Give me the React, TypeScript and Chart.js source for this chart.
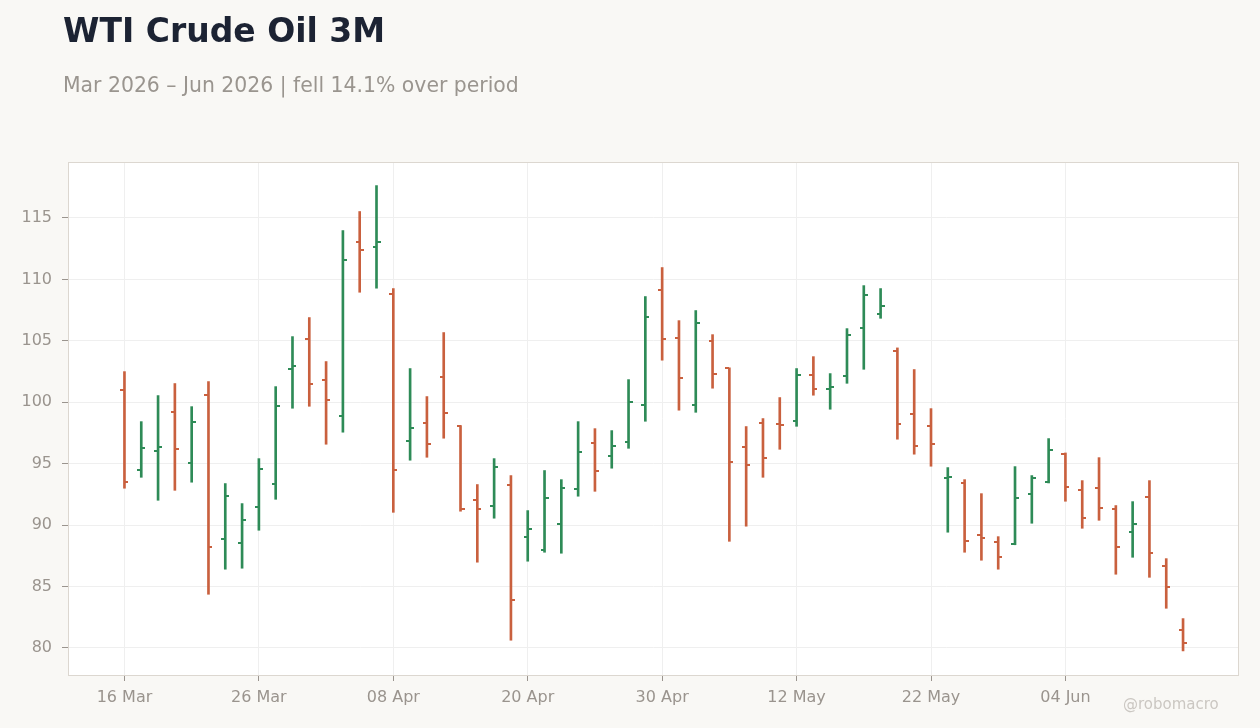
import React, { useRef, useEffect } from "react";
import { Chart, registerables } from "chart.js";

Chart.register(...registerables);

// trading-day index -> OHLC
const opens = [
  100.97, 94.46, 96.01, 99.18, 95.03, 100.57, 88.85, 88.52, 91.45, 93.32,
  102.68, 105.12, 101.79, 98.91, 113.02, 112.67, 108.79, 96.82, 98.29, 102.03,
  98.07, 92.02, 91.53, 93.24, 89.01, 87.95, 90.07, 92.92, 96.66, 95.6,
  96.74, 99.75, 109.11, 105.21, 99.75, 104.96, 102.76, 96.33, 98.29, 98.21,
  98.45, 102.19, 101.06, 102.11, 106.02, 107.16, 104.15, 99.02, 98.04, 93.86,
  93.4, 89.17, 88.6, 88.45, 92.51, 93.49, 95.77, 92.83, 93.0, 91.29,
  89.42, 92.27, 86.65, 81.44,
];
const highs = [
  102.49, 98.42, 100.54, 101.52, 99.64, 101.68, 93.38, 91.75, 95.41, 101.27,
  105.34, 106.89, 103.31, 113.97, 115.52, 117.63, 109.25, 102.74, 100.46, 105.67,
  98.1, 93.3, 95.41, 94.03, 91.18, 94.44, 93.7, 98.42, 97.85, 97.69,
  101.84, 108.6, 110.96, 106.64, 107.46, 105.5, 102.8, 98.02, 98.67, 100.38,
  102.74, 103.71, 102.33, 105.99, 109.49, 109.25, 104.42, 102.66, 99.48, 94.68,
  93.7, 92.56, 89.06, 94.76, 94.03, 97.04, 95.87, 93.62, 95.49, 91.59,
  91.91, 93.62, 87.27, 82.39,
];
const lows = [
  93.0, 93.89, 92.02, 92.83, 93.49, 84.37, 86.41, 86.49, 89.58, 92.1,
  99.51, 99.67, 96.58, 97.56, 108.95, 109.28, 91.04, 95.28, 95.52, 97.07,
  91.13, 86.98, 90.56, 80.63, 87.06, 87.79, 87.71, 92.35, 92.75, 94.63,
  96.25, 98.45, 103.42, 99.35, 99.18, 101.14, 88.68, 89.91, 93.89, 96.17,
  98.04, 100.57, 99.43, 101.54, 102.68, 106.83, 96.99, 95.77, 94.79, 89.42,
  87.79, 87.14, 86.41, 88.4, 90.15, 93.43, 91.94, 89.74, 90.39, 86.0,
  87.38, 85.75, 83.23, 79.76,
];
const closes = [
  93.54, 96.25, 96.33, 96.17, 98.37, 88.2, 92.35, 90.39, 94.54, 99.67,
  102.93, 101.46, 100.16, 111.55, 112.42, 113.02, 94.46, 97.88, 96.58, 99.1,
  91.29, 91.29, 94.71, 83.88, 89.66, 92.18, 93.0, 95.93, 94.44, 96.42,
  100.0, 106.92, 105.12, 101.95, 106.43, 102.28, 95.11, 94.87, 95.44, 98.13,
  102.19, 101.06, 101.22, 105.45, 108.71, 107.81, 98.26, 96.42, 96.63, 93.92,
  88.68, 88.93, 87.38, 92.18, 93.81, 96.09, 93.08, 90.56, 91.37, 88.2,
  90.07, 87.71, 84.94, 80.38,
];

// every 8th trading day gets a label
const tickIndexes = [0, 8, 16, 24, 32, 40, 48, 56];
const tickLabels = ["16 Mar", "26 Mar", "08 Apr", "20 Apr", "30 Apr", "12 May", "22 May", "04 Jun"];

const UP = "#2e8b57";
const DOWN = "#c9603e";
const FONT = "'DejaVu Sans', Verdana, sans-serif";

const colors = opens.map((o, i) => (closes[i] >= o ? UP : DOWN));

// white plot background + frame
const plotFrame = {
  id: "plotFrame",
  beforeDraw(chart: any) {
    const { ctx, chartArea: a } = chart;
    ctx.save();
    ctx.fillStyle = "#ffffff";
    ctx.fillRect(a.left, a.top, a.right - a.left, a.bottom - a.top);
    ctx.restore();
  },
  afterDraw(chart: any) {
    const { ctx, chartArea: a } = chart;
    ctx.save();
    ctx.strokeStyle = "#dcd7d0";
    ctx.lineWidth = 1;
    ctx.strokeRect(a.left + 0.5, a.top + 0.5, a.right - a.left - 1, a.bottom - a.top);
    ctx.restore();
  },
};

// open tick on the left, close tick on the right
const ohlcTicks = {
  id: "ohlcTicks",
  afterDatasetsDraw(chart: any) {
    const { ctx, scales } = chart;
    const x = scales.x;
    const y = scales.y;
    ctx.save();
    opens.forEach((o, i) => {
      const px = Math.round(x.getPixelForValue(i));
      ctx.fillStyle = colors[i];
      const yo = Math.round(y.getPixelForValue(o));
      const yc = Math.round(y.getPixelForValue(closes[i]));
      ctx.fillRect(px - 4, yo - 1, 4, 2);
      ctx.fillRect(px, yc - 1, 4, 2);
    });
    ctx.restore();
  },
};

const OhlcChart: React.FC = () => {
  const canvasRef = useRef<HTMLCanvasElement | null>(null);

  useEffect(() => {
    if (!canvasRef.current) return;
    Chart.defaults.font.family = FONT;

    const chart = new Chart(canvasRef.current, {
      type: "bar",
      data: {
        datasets: [
          {
            data: opens.map((_, i) => ({ x: i, y: [lows[i], highs[i]] })) as any,
            backgroundColor: colors,
            borderWidth: 0,
            barThickness: 2,
            grouped: false,
          },
        ],
      },
      options: {
        animation: false,
        responsive: true,
        maintainAspectRatio: false,
        layout: { padding: { top: 162, right: 21, bottom: 0, left: 0 } },
        plugins: {
          legend: { display: false },
          tooltip: { enabled: false },
        },
        scales: {
          x: {
            type: "linear",
            offset: false,
            min: -3.36,
            max: 66.33,
            afterBuildTicks: (scale: any) => {
              scale.ticks = tickIndexes.map((v) => ({ value: v }));
            },
            afterFit: (scale: any) => {
              scale.height = 53;
            },
            ticks: {
              autoSkip: false,
              maxRotation: 0,
              padding: 7,
              color: "#9a948e",
              font: { size: 16 },
              callback: (v: any) => tickLabels[tickIndexes.indexOf(Number(v))] ?? "",
            },
            grid: { offset: false, color: "#efefef", tickColor: "#9a948e", tickLength: 6 },
            border: { display: false },
          },
          y: {
            min: 77.8,
            max: 119.55,
            afterFit: (scale: any) => {
              scale.width = 68;
            },
            ticks: {
              stepSize: 5,
              includeBounds: false,
              padding: 10,
              color: "#9a948e",
              font: { size: 16 },
            },
            grid: { color: "#efefef", tickColor: "#9a948e", tickLength: 6 },
            border: { display: false },
          },
        },
      } as any,
      plugins: [plotFrame, ohlcTicks],
    });

    return () => chart.destroy();
  }, []);

  return <canvas ref={canvasRef} />;
};

const App: React.FC = () => {
  return (
    <div
      style={{
        position: "fixed",
        left: 0,
        top: 0,
        width: 1260,
        height: 728,
        background: "#f9f8f5",
        fontFamily: FONT,
        overflow: "hidden",
      }}
    >
      <div style={{ position: "absolute", left: 0, top: 0, width: 1260, height: 728 }}>
        <OhlcChart />
      </div>
      <div
        style={{
          position: "absolute",
          left: 63,
          top: 14,
          fontSize: 33,
          lineHeight: "33px",
          fontWeight: "bold",
          color: "#1c2333",
          whiteSpace: "nowrap",
        }}
      >
        WTI Crude Oil 3M
      </div>
      <div
        style={{
          position: "absolute",
          left: 63,
          top: 75,
          fontSize: 20.4,
          lineHeight: "20px",
          color: "#9a958f",
          whiteSpace: "nowrap",
        }}
      >
        Mar 2026 – Jun 2026 | fell 14.1% over period
      </div>
      <div
        style={{
          position: "absolute",
          left: 1123,
          top: 697,
          fontSize: 15,
          lineHeight: "15px",
          color: "#cbc7c2",
          whiteSpace: "nowrap",
        }}
      >
        @robomacro
      </div>
    </div>
  );
};

export default App;
